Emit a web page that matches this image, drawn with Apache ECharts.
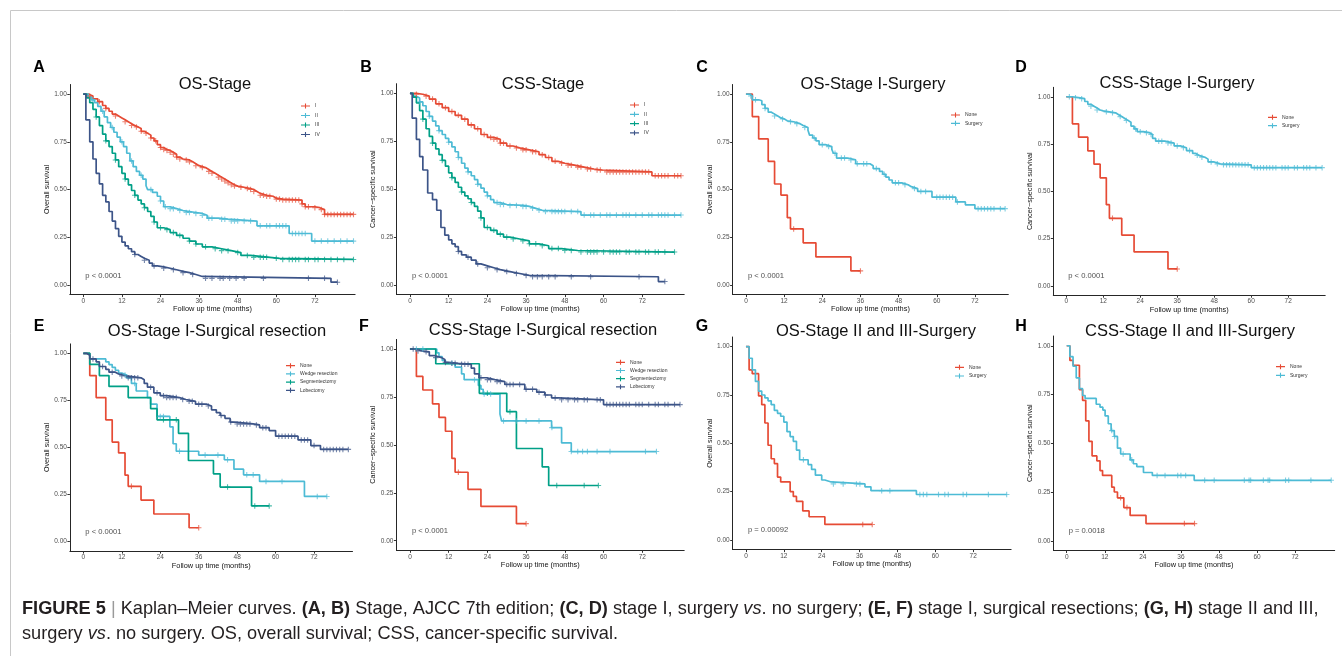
<!DOCTYPE html>
<html>
<head>
<meta charset="utf-8">
<script src="https://cdn.jsdelivr.net/npm/echarts@6/dist/echarts.min.js"></script>
<style>
  html, body { margin: 0; padding: 0; background: #ffffff; }
  #chart { width: 1342px; height: 656px; }
</style>
</head>
<body>
<div id="chart"></div>
<script>
// ---------------- Kaplan–Meier data (months, survival probability) ----------------
const monthTicks = [0, 12, 24, 36, 48, 60, 72];
const survivalTicks = [0, 0.25, 0.5, 0.75, 1];

const stageGroups = ['I', 'II', 'III', 'IV'];
const surgeryGroups = ['None', 'Surgery'];
const resectionGroups = ['None', 'Wedge resection', 'Segmentectomy', 'Lobectomy'];

const panelLetters = ['A', 'B', 'C', 'D', 'E', 'F', 'G', 'H'];
const panelTitles = [
  'OS-Stage', 'CSS-Stage', 'OS-Stage I-Surgery', 'CSS-Stage I-Surgery',
  'OS-Stage I-Surgical resection', 'CSS-Stage I-Surgical resection',
  'OS-Stage II and III-Surgery', 'CSS-Stage II and III-Surgery'
];
const yTitles = [
  'Overall survival', 'Cancer\u2212specific survival', 'Overall survival', 'Cancer\u2212specific survival',
  'Overall survival', 'Cancer\u2212specific survival', 'Overall survival', 'Cancer\u2212specific survival'
];
const xTitle = 'Follow up time (months)';
const pValues = ['p < 0.0001', 'p < 0.0001', 'p < 0.0001', 'p < 0.0001',
                 'p < 0.0001', 'p < 0.0001', 'p = 0.00092', 'p = 0.0018'];

// Overall survival by AJCC stage
const osStageI = [[0,1],[1.5,0.99],[3,0.975],[4.5,0.96],[6,0.94],[7,0.925],[8,0.91],[9,0.895],[10,0.885],[11,0.875],[12,0.865],[13,0.855],[14,0.845],[15,0.835],[16,0.828],[17,0.82],[18,0.805],[19,0.795],[20,0.785],[21,0.77],[22,0.755],[23,0.735],[24,0.72],[25,0.71],[26,0.705],[27,0.695],[28,0.685],[29,0.67],[30,0.66],[31,0.655],[33,0.645],[34,0.635],[35,0.625],[36,0.615],[38,0.605],[39,0.595],[40,0.585],[41,0.575],[42,0.565],[43,0.555],[44,0.545],[45,0.535],[46,0.525],[47,0.518],[48,0.512],[50,0.505],[52,0.5],[53,0.49],[54,0.48],[55,0.47],[57,0.465],[59,0.455],[60,0.45],[62,0.445],[68,0.425],[69,0.41],[72,0.405],[73.5,0.395],[75,0.37]];
const osStageII = [[0,1],[1.5,0.985],[2.5,0.97],[3.5,0.955],[4.5,0.935],[5.5,0.91],[6.5,0.88],[7.5,0.85],[8.5,0.825],[9.5,0.8],[10.5,0.775],[11.5,0.75],[12.5,0.725],[13.5,0.69],[14.5,0.65],[15.5,0.62],[16.5,0.595],[17.5,0.575],[18.5,0.555],[19.5,0.52],[20,0.5],[21.5,0.485],[23,0.465],[24,0.44],[25,0.41],[27,0.4],[29,0.39],[31,0.38],[35,0.375],[37,0.365],[38.5,0.35],[42,0.345],[45,0.335],[54,0.31],[64,0.27],[71,0.23]];
const osStageIII = [[0,1],[1,0.98],[2,0.955],[3,0.92],[4,0.88],[5,0.835],[6,0.79],[7,0.755],[8,0.725],[9,0.69],[10,0.655],[11,0.62],[12,0.585],[13,0.555],[14,0.525],[15,0.495],[16,0.47],[17,0.445],[18,0.425],[19,0.405],[20,0.385],[21,0.36],[22,0.33],[23,0.3],[25,0.29],[27,0.275],[29,0.26],[31,0.245],[33,0.23],[35,0.215],[37,0.2],[40,0.19],[43,0.18],[46,0.17],[49,0.155],[52,0.145],[58,0.14],[61,0.134]];
const osStageIV = [[0,1],[0.8,0.865],[2,0.75],[3,0.66],[4,0.585],[5,0.53],[6,0.47],[7,0.435],[8,0.385],[9,0.335],[10,0.295],[11,0.255],[12,0.225],[13,0.205],[14,0.19],[15,0.175],[16,0.16],[17,0.15],[18,0.14],[19,0.13],[20.5,0.115],[21.5,0.1],[23,0.095],[25,0.088],[27,0.08],[29,0.072],[31,0.065],[33,0.055],[35,0.045],[37,0.035],[77,0.015]];
const osStageICens = [2,5,7,10,13,15,16.5,18,19.5,21,22.5,24,25,26,27,28,29,30,32,33,35,37,39,40,42,43,44,45,46,47,49,51,52,53,55,56,57,58,60,61,62,63,64,65,66,67,68,69,70,72,74,75,76,77,78,79,80,81,82,83,84];
const osStageIICens = [3,6,9,12,15,18,21,24,25.5,27,28,30,32,33,35,37,39,40,43,44,46,47,48,50,52,55,57,58,60,61,62,63,65,66,67,68,69,72,74,76,78,80,82,84];
const osStageIIICens = [4,7,10,13,16,19,22,24,26,28,30,33,35,38,41,43,45,48,51,53,55,56,57,60,62,64,65,66,67,69,70,72,73,75,77,79,81,84];
const osStageIVCens = [16,19,22,25,28,31,34,38,40,42.5,43.5,45.5,47.5,50,56,70,75,79];

// Cancer-specific survival by AJCC stage
const cssStageI = [[0,1],[2,0.995],[4,0.985],[6,0.97],[8,0.945],[10,0.925],[12,0.905],[14,0.885],[16,0.865],[18,0.835],[20,0.815],[22,0.785],[24,0.77],[26,0.76],[28,0.74],[30,0.725],[32,0.715],[34,0.705],[37,0.695],[40,0.68],[42,0.665],[44,0.645],[46,0.635],[48,0.625],[51,0.615],[54,0.605],[57,0.6],[59.5,0.59],[75,0.57]];
const cssStageII = [[0,1],[1,0.985],[2,0.975],[3,0.955],[4,0.935],[5,0.905],[6,0.88],[7,0.855],[8,0.83],[9,0.805],[10,0.785],[11,0.765],[12,0.745],[13,0.72],[14,0.695],[15,0.665],[16,0.635],[17,0.61],[18,0.59],[19,0.57],[20,0.55],[21,0.525],[22,0.505],[23,0.485],[24,0.465],[25,0.445],[26,0.43],[28,0.42],[30,0.415],[35,0.41],[37,0.4],[39,0.39],[41,0.383],[53,0.365]];
const cssStageIII = [[0,1],[1,0.98],[2,0.95],[3,0.91],[4,0.865],[5,0.815],[6,0.775],[7,0.74],[8,0.71],[9,0.68],[10,0.65],[11,0.62],[12,0.585],[13,0.56],[14,0.535],[15,0.51],[16,0.485],[17,0.465],[18,0.45],[19,0.43],[20,0.41],[21,0.385],[22,0.35],[23,0.3],[25,0.285],[27,0.265],[29,0.25],[31,0.24],[34,0.23],[37,0.215],[40,0.205],[43,0.19],[47,0.18],[52,0.172]];
const cssStageIV = [[0,1],[0.7,0.87],[2,0.76],[3,0.67],[4,0.6],[5.5,0.48],[7,0.445],[8.3,0.39],[9.6,0.3],[10.8,0.26],[12,0.235],[13,0.215],[14,0.2],[15,0.175],[16,0.157],[17.5,0.145],[19,0.13],[20.5,0.11],[22,0.1],[24,0.09],[26,0.08],[28,0.07],[31,0.06],[34,0.05],[37,0.043],[77,0.018]];
const cssStageICens = [2,5,7,9,11,13,15,17,19,21,23,25,26,27,28,29,31,33,35,36,38,39,41,43,45,47,49,50,52,53,55,56,58,59,61,62,63,64,65,66,67,68,69,70,71,72,73,74,76,77,78,79,80,82,83,84];
const cssStageIICens = [3,6,9,12,15,18,21,24,27,28,29,31,33,35,36,38,40,42,44,45,46,47,48,50,52,54,56,57,59,61,62,64,66,67,68,70,72,74,75,77,78,79,80,82,84];
const cssStageIIICens = [4,7,10,13,16,19,22,24,26,28,30,32,35,37,39,41,44,46,48,50,53,55,56,57,58,60,62,63,64,65,67,68,70,71,73,74,76,77,79,82];
const cssStageIVCens = [15,18,21,24,27,30,33,36,38,39.5,41,43,45,50,56,71,79];

// Stage I: no surgery vs surgery
const osStageINone = [[0,1],[2,0.882],[4,0.765],[7,0.647],[9,0.529],[11,0.471],[13,0.353],[14,0.294],[18,0.221],[22,0.147],[33,0.074]];
const osStageINoneCens = [15,36];
const osStageISurgery = [[0,1],[1,0.99],[2,0.97],[4,0.965],[5,0.945],[6,0.925],[7,0.905],[8,0.895],[9,0.885],[10,0.875],[11,0.87],[12,0.86],[13,0.855],[15,0.845],[17,0.835],[18,0.825],[19.5,0.81],[20,0.785],[21,0.77],[22,0.755],[23,0.735],[25,0.725],[27,0.71],[27.5,0.69],[28.5,0.665],[32,0.655],[34.5,0.635],[39,0.625],[40,0.61],[42,0.595],[43,0.58],[44,0.565],[45,0.55],[46,0.535],[49,0.525],[51,0.515],[52,0.505],[54,0.49],[58.5,0.46],[66,0.435],[69,0.42],[72,0.4]];
const osStageISurgeryCens = [1.5,3,6,9,11.5,14,16,18.5,21.5,24,26,28,30,31,33,35,37,38,41,43.5,47,48,50,53,55,56.5,60,61,62,63,64,65,66.5,73,74,75,76,77,78,80,81.5];
const cssStageINone = [[0,1],[2,0.857],[4,0.786],[7,0.714],[9,0.643],[11,0.571],[13,0.429],[14,0.357],[18,0.268],[22,0.179],[33,0.089]];
const cssStageINoneCens = [15,36];
const cssStageISurgery = [[0,1],[2,0.995],[4,0.99],[6,0.975],[7,0.96],[8,0.95],[9,0.94],[10,0.93],[11,0.925],[12,0.92],[14,0.915],[16,0.905],[17,0.895],[18,0.885],[19,0.875],[20,0.865],[21,0.845],[22,0.83],[23,0.815],[25,0.81],[27,0.8],[28,0.78],[29,0.765],[32,0.755],[35,0.74],[37,0.73],[39,0.715],[41,0.7],[42,0.69],[43,0.68],[45,0.67],[46,0.655],[48,0.645],[50,0.64],[60,0.625]];
const cssStageISurgeryCens = [1,3,5,8,10,13,15,17.5,19.5,22.5,24,26,27.5,30,31,33,34,36,38,40,42.5,44,47,49,51,52,53,54,55,56,57,58,59,61,62,63,64,65,66,67,68,70,71,72,74,75,77,78,79,81,83];

// Stage I: type of surgical resection
const osWedge = [[0,1],[2,0.97],[7,0.955],[8,0.94],[9,0.925],[10,0.91],[11,0.895],[12,0.885],[13.5,0.87],[15,0.84],[16.5,0.8],[20,0.765],[21,0.73],[23,0.665],[27,0.61],[28,0.52],[29,0.48],[36,0.46],[44,0.435],[47,0.385],[50,0.355],[55,0.32],[69,0.24]];
const osWedgeCens = [13,16,24,25,30,38,42,45,51,53,57,62,73,76];
const osSegment = [[0,1],[2,0.941],[5,0.882],[8,0.824],[14,0.765],[21,0.706],[23,0.647],[29.7,0.575],[32.8,0.431],[40.6,0.36],[42.7,0.29],[52.5,0.19]];
const osSegmentCens = [25,29,45,53.5,58];
const osLobe = [[0,1],[1,0.99],[2,0.97],[4,0.955],[5,0.93],[7,0.915],[8,0.9],[10,0.89],[11,0.88],[13.5,0.87],[18,0.86],[19,0.84],[20,0.82],[22,0.79],[24,0.775],[26,0.765],[30,0.755],[32,0.745],[35,0.73],[38.5,0.72],[40,0.7],[41.5,0.685],[42.7,0.67],[44.2,0.655],[45.8,0.635],[47.3,0.625],[53,0.62],[55,0.605],[58,0.59],[60,0.56],[67,0.54],[71,0.51],[74,0.49]];
const osLobeCens = [3,6,9,12,14,15,16,17,21,23,25,26,27,28,29,31,33,34,36,37,39,43,46,48,49,50,51,52,54,56,57,61,62,63,64,65,66,68,69,70,72,75,76,77,78,79,80,81,82.7];
const cssWedge = [[0,1],[8.3,0.98],[9,0.96],[10,0.94],[11,0.925],[14,0.905],[16,0.87],[16.8,0.84],[21.2,0.81],[22,0.79],[22.7,0.765],[27.9,0.66],[28.4,0.625],[43.9,0.59],[47,0.51],[50,0.465]];
const cssWedgeCens = [2,4,13,20,23,25,29,33,36,40,44,50,52,53.5,55,58,62,73,76.4];
const cssSegment = [[0,1],[8,0.923],[21.5,0.769],[30,0.673],[33,0.481],[41,0.385],[43,0.288]];
const cssSegmentCens = [24,31,45.5,54,58.4];
const cssLobe = [[0,1],[2,0.99],[3.6,0.985],[6,0.965],[7.7,0.955],[9.8,0.945],[10.8,0.93],[12,0.925],[15,0.92],[19,0.9],[20,0.87],[21.4,0.85],[23.8,0.84],[26.3,0.83],[29.4,0.815],[35.6,0.79],[39.3,0.775],[41.8,0.76],[43.9,0.745],[46,0.735],[60,0.71]];
const cssLobeCens = [1,2.5,5,8,11,13,14,16,17,18,22,24,25,27,28,30,31,32,34,36,38,40,42,45,47,49,51,52,54,55,58,59,61,62,63,64,65,66,67,68,70,71,72,74,76,77,79,80,82,83.7];

// Stage II and III: no surgery vs surgery
const osStageIIINone = [[0,1],[1,0.88],[2,0.86],[4,0.745],[5,0.7],[6,0.605],[7,0.49],[8,0.42],[9,0.395],[10,0.325],[11,0.3],[14,0.25],[15,0.225],[16,0.2],[18,0.15],[20,0.12],[25,0.08]];
const osStageIIINoneCens = [37,40];
const osStageIIISurgery = [[0,1],[1,0.94],[2,0.88],[3,0.82],[4,0.77],[5,0.75],[6,0.735],[7,0.72],[8,0.7],[9,0.67],[10,0.655],[11,0.64],[12,0.61],[13,0.56],[14,0.535],[15,0.51],[16,0.465],[17,0.415],[19.7,0.39],[20.8,0.365],[22,0.335],[24,0.31],[25,0.3],[27,0.29],[37.7,0.275],[39.6,0.255],[54,0.235]];
const osStageIIISurgeryCens = [18.2,27.7,30.8,35,36.1,43,45.6,55.1,56.2,57.3,61,63,64.1,68.8,69.9,76.8,82.6];
const cssStageIIINone = [[0,1],[1,0.925],[2,0.9],[4,0.775],[5,0.72],[6,0.615],[7,0.51],[8,0.435],[9.5,0.41],[10.5,0.36],[11.3,0.335],[14.2,0.275],[15,0.25],[16,0.22],[18,0.17],[20,0.13],[25,0.088]];
const cssStageIIINoneCens = [17,19,37.1,40.3];
const cssStageIIISurgery = [[0,1],[1,0.944],[2,0.895],[3,0.835],[4,0.78],[5,0.745],[5.8,0.73],[9.3,0.7],[10.5,0.685],[11.4,0.67],[12.1,0.64],[13.1,0.6],[14,0.565],[15,0.535],[16,0.475],[17,0.445],[20,0.415],[21,0.395],[22.1,0.38],[24.2,0.35],[27,0.335],[40.2,0.31]];
const cssStageIIISurgeryCens = [14.2,15.1,17.8,20.5,28.5,31,35,36,37.5,43.5,46.5,56,57.5,58,62,63.5,64,69,70,77,83.4];

// ---------------- panel assembly ----------------
const npg = { red: '#E64B35', cyan: '#4DBBD5', green: '#00A087', navy: '#3C5488' };
const stageColors = [npg.red, npg.cyan, npg.green, npg.navy];
const surgeryColors = [npg.red, npg.cyan];

const panels = [
  { groups: stageGroups, colors: stageColors, curves: [osStageI, osStageII, osStageIII, osStageIV], cens: [osStageICens, osStageIICens, osStageIIICens, osStageIVCens] },
  { groups: stageGroups, colors: stageColors, curves: [cssStageI, cssStageII, cssStageIII, cssStageIV], cens: [cssStageICens, cssStageIICens, cssStageIIICens, cssStageIVCens] },
  { groups: surgeryGroups, colors: surgeryColors, curves: [osStageINone, osStageISurgery], cens: [osStageINoneCens, osStageISurgeryCens] },
  { groups: surgeryGroups, colors: surgeryColors, curves: [cssStageINone, cssStageISurgery], cens: [cssStageINoneCens, cssStageISurgeryCens] },
  { groups: resectionGroups, colors: stageColors, curves: [osStageINone, osWedge, osSegment, osLobe], cens: [osStageINoneCens, osWedgeCens, osSegmentCens, osLobeCens] },
  { groups: resectionGroups, colors: stageColors, curves: [cssStageINone, cssWedge, cssSegment, cssLobe], cens: [cssStageINoneCens, cssWedgeCens, cssSegmentCens, cssLobeCens] },
  { groups: surgeryGroups, colors: surgeryColors, curves: [osStageIIINone, osStageIIISurgery], cens: [osStageIIINoneCens, osStageIIISurgeryCens] },
  { groups: surgeryGroups, colors: surgeryColors, curves: [cssStageIIINone, cssStageIIISurgery], cens: [cssStageIIINoneCens, cssStageIIISurgeryCens] }
];

// plot area of each panel (pixels) and legend / heading placement
const layout = [
  { grid: [69.8, 84.5, 285.3, 210.1],  xMax: 84.5, leg: [301, 103, 3.5],  letter: [39, 68],   title: [215, 84] },
  { grid: [396.4, 83.7, 287.8, 210.9], xMax: 85,   leg: [630, 102, 3.3],  letter: [366, 68],  title: [543, 84] },
  { grid: [732.6, 84.5, 275.7, 210.1], xMax: 82.5, leg: [951, 112, 2.3],  letter: [702, 68],  title: [873, 84] },
  { grid: [1053.3, 87.3, 271.9, 207.9],xMax: 84,   leg: [1268, 114.3, 2.4], letter: [1021, 68], title: [1177, 83] },
  { grid: [69.9, 343.9, 282.6, 207.2], xMax: 84,   leg: [286, 362.7, 2.2], letter: [39, 327],  title: [217, 331] },
  { grid: [396.4, 339.4, 287.8, 210.9],xMax: 85,   leg: [616, 359.3, 2.2], letter: [364, 327], title: [543, 330] },
  { grid: [732.7, 337.0, 278.4, 212.6],xMax: 84,   leg: [955, 364.3, 2.7], letter: [702, 327], title: [876, 331] },
  { grid: [1053.4, 336.0, 281.3, 214.5],xMax: 84.5,leg: [1276, 363.7, 2.6], letter: [1021, 327], title: [1190, 331] }
];

const FONT = '"Liberation Sans", Arial, Helvetica, sans-serif';
const plusSymbol = 'path://M4,0H6V4H10V6H6V10H4V6H0V4H4Z';
const legendIcon = 'path://M0,2.35H10V3.65H0Z M4.4,0.3H5.6V5.7H4.4Z';

function survivalAt(curve, t) {
  let s = curve[0][1];
  for (const [ti, si] of curve) { if (ti <= t) s = si; else break; }
  return s;
}

const grids = [], xAxes = [], yAxes = [], series = [], legends = [], graphics = [];

panels.forEach((p, i) => {
  const L = layout[i];
  grids.push({ left: L.grid[0], top: L.grid[1], width: L.grid[2], height: L.grid[3], containLabel: false, outerBoundsMode: 'none' });
  xAxes.push({
    gridIndex: i, type: 'value', min: -4.2, max: L.xMax,
    axisLine: { show: true, onZero: false, lineStyle: { color: '#262626', width: 1 } },
    axisTick: { show: true, customValues: monthTicks, length: 2.5, lineStyle: { color: '#333' } },
    axisLabel: { show: true, customValues: monthTicks, fontSize: 6.5, color: '#4d4d4d', margin: 3, fontFamily: FONT },
    splitLine: { show: false },
    name: xTitle, nameLocation: 'middle', nameGap: 10.5,
    nameTextStyle: { fontSize: 7.4, color: '#111', fontFamily: FONT }
  });
  yAxes.push({
    gridIndex: i, type: 'value', min: -0.05, max: 1.05,
    axisLine: { show: true, onZero: false, lineStyle: { color: '#262626', width: 1 } },
    axisTick: { show: true, customValues: survivalTicks, length: 2.5, lineStyle: { color: '#333' } },
    axisLabel: { show: true, customValues: survivalTicks, fontSize: 6.5, color: '#4d4d4d', margin: 3, fontFamily: FONT,
                 formatter: v => Number(v).toFixed(2) },
    splitLine: { show: false },
    name: yTitles[i], nameLocation: 'middle', nameRotate: 90, nameGap: 18,
    nameTextStyle: { fontSize: 7.2, color: '#111', fontFamily: FONT }
  });

  p.curves.forEach((curve, k) => {
    const color = p.colors[k];
    const cens = p.cens[k];
    const last = curve[curve.length - 1];
    const end = Math.max(last[0], ...cens);
    series.push({
      type: 'line', name: p.groups[k], xAxisIndex: i, yAxisIndex: i,
      step: 'end', symbol: 'none', silent: true, z: 3,
      data: curve.concat([[end, last[1]]]),
      color: color, itemStyle: { color: color },
      lineStyle: { color: color, width: 1.7 }
    });
    series.push({
      type: 'scatter', name: p.groups[k] + ' (censored)', xAxisIndex: i, yAxisIndex: i,
      symbol: plusSymbol, symbolSize: 5.5, silent: true, z: 4,
      data: cens.map(t => [t, survivalAt(curve, t)]),
      itemStyle: { color: color, opacity: 0.7 }
    });
  });

  // log-rank p-value, anchored near the origin of the survival scale
  series.push({
    type: 'scatter', name: 'p-value ' + panelLetters[i], xAxisIndex: i, yAxisIndex: i,
    data: [[0, 0.05]], symbolSize: 1, silent: true, z: 5,
    itemStyle: { color: 'rgba(0,0,0,0)' },
    label: { show: true, position: 'right', distance: 1.5, formatter: pValues[i],
             fontSize: 7.6, color: '#1a1a1a', fontFamily: FONT }
  });

  legends.push({
    data: p.groups, orient: 'vertical', left: L.leg[0], top: L.leg[1], itemGap: L.leg[2],
    itemWidth: 9, itemHeight: 6, icon: legendIcon, padding: 0, selectedMode: false,
    textStyle: { fontSize: 5, lineHeight: 6, color: '#333', fontFamily: FONT }
  });

  graphics.push({
    type: 'text', x: L.letter[0], y: L.letter[1], silent: true,
    style: { text: panelLetters[i], fontSize: 16, fontWeight: 'bold', fontFamily: FONT, fill: '#000',
             align: 'center', verticalAlign: 'middle' }
  });
  graphics.push({
    type: 'text', x: L.title[0], y: L.title[1], silent: true,
    style: { text: panelTitles[i], fontSize: 16.5, fontFamily: FONT, fill: '#111',
             align: 'center', verticalAlign: 'middle' }
  });
});

// frame lines along the top and left of the figure
graphics.push({ type: 'line', silent: true, shape: { x1: 10.5, y1: 10.5, x2: 1342, y2: 10.5 }, style: { stroke: '#c8c8c8', lineWidth: 1 } });
graphics.push({ type: 'line', silent: true, shape: { x1: 10.5, y1: 10.5, x2: 10.5, y2: 656 }, style: { stroke: '#c8c8c8', lineWidth: 1 } });

// figure caption
const CAP = 18.2;
const capBase = { fontSize: CAP, fontFamily: FONT, fill: '#231f20' };
const capRich = {
  b: { fontSize: CAP, fontFamily: FONT, fontWeight: 'bold', fill: '#231f20' },
  i: { fontSize: CAP, fontFamily: FONT, fontStyle: 'italic', fill: '#231f20' },
  g: { fontSize: CAP, fontFamily: FONT, fill: '#9a9a9a' }
};
graphics.push({
  type: 'text', x: 22, y: 609, silent: true,
  style: Object.assign({}, capBase, { verticalAlign: 'middle', rich: capRich,
    text: '{b|FIGURE 5} {g||} Kaplan\u2013Meier curves. {b|(A, B)} Stage, AJCC 7th edition; {b|(C, D)} stage I, surgery {i|vs}. no surgery; {b|(E, F)} stage I, surgical resections; {b|(G, H)} stage II and III,' })
});
graphics.push({
  type: 'text', x: 22, y: 634, silent: true,
  style: Object.assign({}, capBase, { verticalAlign: 'middle', rich: capRich,
    text: 'surgery {i|vs}. no surgery. OS, overall survival; CSS, cancer-specific survival.' })
});

const chart = echarts.init(document.getElementById('chart'), null, { renderer: 'canvas' });
chart.setOption({
  animation: false,
  backgroundColor: '#ffffff',
  grid: grids,
  xAxis: xAxes,
  yAxis: yAxes,
  legend: legends,
  series: series,
  graphic: graphics
});
</script>
</body>
</html>
